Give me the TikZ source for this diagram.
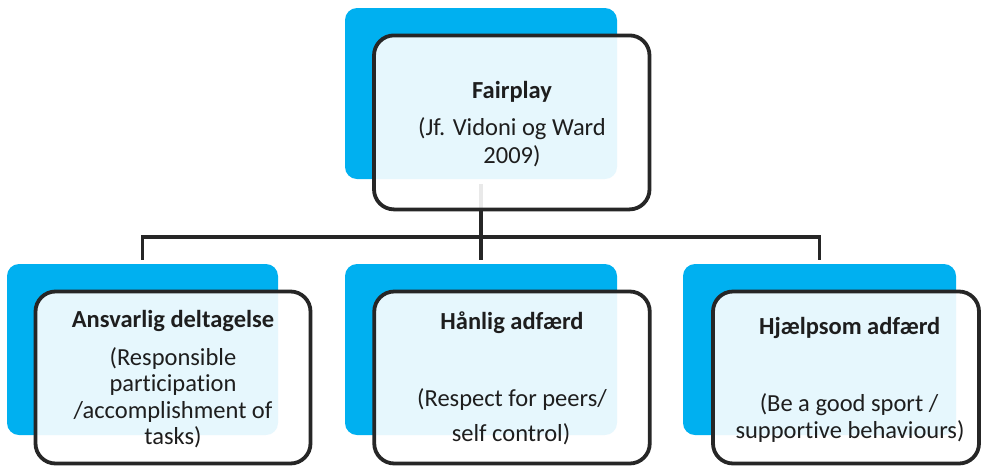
\documentclass[tikz,border=0pt]{standalone}
\usepackage{fontspec}
\setmainfont{Carlito}[Ligatures={NoCommon}]
\begin{document}
\definecolor{skyblue}{HTML}{00B0F0}
\definecolor{edgegray}{HTML}{262626}
\definecolor{inkgray}{HTML}{1E1E1E}
\begin{tikzpicture}[x=1pt,y=-1pt,
  backbox/.style={fill=skyblue,draw=none,rounded corners=12pt,inner sep=0pt,
    minimum width=#1,minimum height=171pt},
  backbox/.default=272pt,
  frontbox/.style={draw=edgegray,line width=3.8pt,rounded corners=20pt,
    fill=white,fill opacity=0.9,inner sep=0pt,
    minimum width=275.5pt,minimum height=#1},
  frontbox/.default=172pt,
  conn/.style={draw=edgegray,line width=3.8pt,line join=miter},
  title/.style={anchor=base,text=inkgray,inner sep=0pt,
    font=\fontsize{24.5}{29}\selectfont\bfseries},
  body/.style={anchor=base,text=inkgray,inner sep=0pt,
    font=\fontsize{24.5}{29}\selectfont}]
\useasboundingbox (0,0) rectangle (983,467);

% blue backing cards
\node[backbox] (topback) at (481,93.5) {};
\node[backbox,minimum width=271pt] (leftback) at (142.5,349.5) {};
\node[backbox] (midback) at (481,349.5) {};
\node[backbox,minimum width=273pt] (rightback) at (819.5,349.5) {};

% hierarchy connectors
\coordinate (bus) at (481,237);
\draw[conn,shorten <=5pt,shorten >=4pt] (topback.south) -- (midback.north);
\draw[conn,shorten <=4pt,shorten >=4pt] (leftback.north) -- (leftback.north |- bus)
  -- (rightback.north |- bus) -- (rightback.north);

% translucent front cards
\node[frontbox=174pt] (topfront) at (511.75,122.4) {};
\node[frontbox,minimum width=275pt] (leftfront) at (173,377.5) {};
\node[frontbox] (midfront) at (512,377.5) {};
\node[frontbox,minimum width=266pt] (rightfront) at (846,377.5) {};

% top card text
\node[title] (t0) at (512,98) {Fairplay};
\node[body] (t1) at (512,135) {(Jf. Vidoni og Ward};
\node[body] (t2) at (512,163) {2009)};

% left card text
\node[title] (a0) at (173,327) {Ansvarlig deltagelse};
\node[body] (a1) at (173,365) {(Responsible};
\node[body] (a2) at (173,391.7) {participation};
\node[body] (a3) at (173,418.3) {/accomplishment of};
\node[body] (a4) at (173,444) {tasks)};

% middle card text
\node[title] (b0) at (512,329.3) {Hånlig adfærd};
\node[body] (b1) at (512,406.7) {(Respect for peers/};
\node[body] (b2) at (511,441.7) {self control)};

% right card text
\node[title] (c0) at (849.7,334) {Hjælpsom adfærd};
\node[body] (c1) at (849,411.7) {(Be a good sport /};
\node[body] (c2) at (850,438.3) {supportive behaviours)};
\end{tikzpicture}
\end{document}
